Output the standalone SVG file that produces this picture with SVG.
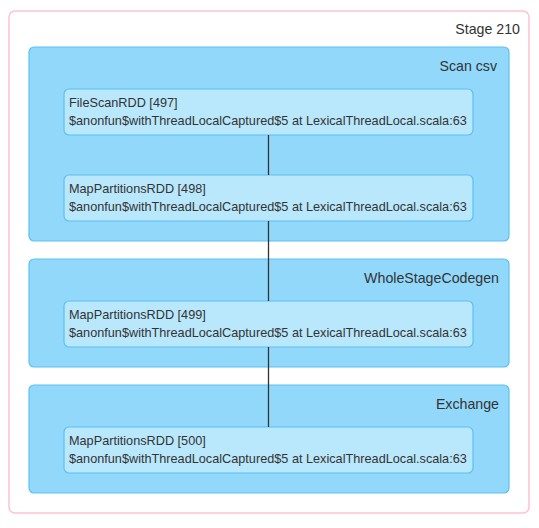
<svg xmlns="http://www.w3.org/2000/svg" width="539" height="528" viewBox="0 0 539 528">
<style>
.stage{fill:#ffffff;stroke:#ffc2cf;stroke-width:1.5}
.cluster{fill:#92d8fb;stroke:#5cc0f3;stroke-width:1.2}
.node{fill:#b9e7fb;stroke:#5cc0f3;stroke-width:1.2}
.ct{font-family:"Liberation Sans",Arial,sans-serif;font-size:14.2px;fill:#333;text-anchor:end}
.nt{font-family:"Liberation Sans",Arial,sans-serif;font-size:12.7px;fill:#333}
.edge{stroke:#333;stroke-width:1.3;fill:none}
</style>
<g id="stage-210">
<rect class="stage" x="9" y="11" width="520" height="502" rx="6"/>
<text class="ct" x="520" y="34">Stage 210</text>
</g>
<g id="cluster-scan-csv">
<rect class="cluster" x="29" y="47" width="480" height="194" rx="5"/>
<text class="ct" x="497" y="71">Scan csv</text>
</g>
<g id="cluster-wholestagecodegen">
<rect class="cluster" x="29" y="259" width="480" height="108" rx="5"/>
<text class="ct" x="499" y="283">WholeStageCodegen</text>
</g>
<g id="cluster-exchange">
<rect class="cluster" x="29" y="385" width="480" height="108" rx="5"/>
<text class="ct" x="499" y="409">Exchange</text>
</g>
<g id="node-497">
<rect class="node" x="64" y="89" width="409" height="46" rx="5"/>
<text class="nt" x="69" y="107">FileScanRDD [497]</text>
<text class="nt" x="69" y="125">$anonfun$withThreadLocalCaptured$5 at LexicalThreadLocal.scala:63</text>
</g>
<g id="node-498">
<rect class="node" x="64" y="175" width="409" height="46" rx="5"/>
<text class="nt" x="69" y="193">MapPartitionsRDD [498]</text>
<text class="nt" x="69" y="211">$anonfun$withThreadLocalCaptured$5 at LexicalThreadLocal.scala:63</text>
</g>
<g id="node-499">
<rect class="node" x="64" y="301" width="409" height="46" rx="5"/>
<text class="nt" x="69" y="319">MapPartitionsRDD [499]</text>
<text class="nt" x="69" y="337">$anonfun$withThreadLocalCaptured$5 at LexicalThreadLocal.scala:63</text>
</g>
<g id="node-500">
<rect class="node" x="64" y="427" width="409" height="46" rx="5"/>
<text class="nt" x="69" y="445">MapPartitionsRDD [500]</text>
<text class="nt" x="69" y="463">$anonfun$withThreadLocalCaptured$5 at LexicalThreadLocal.scala:63</text>
</g>
<g id="connectors">
<line class="edge" x1="268.5" y1="135" x2="268.5" y2="175"/>
<line class="edge" x1="268.5" y1="221" x2="268.5" y2="301"/>
<line class="edge" x1="268.5" y1="347" x2="268.5" y2="427"/>
</g>
</svg>
